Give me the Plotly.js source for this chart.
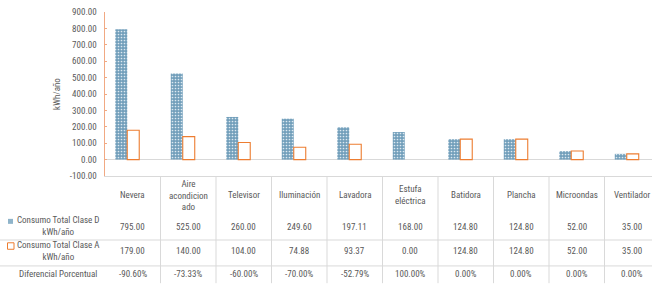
<!DOCTYPE html>
<html>
<head>
<meta charset="utf-8">
<script src="https://cdn.plot.ly/plotly-3.0.1.min.js"></script>
<style>html,body{margin:0;padding:0;background:#fff;}#chart{width:652px;height:284px;}</style>
</head>
<body>
<div id="chart"></div>
<script>
const categories = ["Nevera", "Aire acondicionado", "Televisor", "Iluminación", "Lavadora", "Estufa eléctrica", "Batidora", "Plancha", "Microondas", "Ventilador"];
const headerLabels = ["Nevera", "Aire<br>acondicion<br>ado", "Televisor", "Iluminación", "Lavadora", "Estufa<br>eléctrica", "Batidora", "Plancha", "Microondas", "Ventilador"];
const claseD = [795.00, 525.00, 260.00, 249.60, 197.11, 168.00, 124.80, 124.80, 52.00, 35.00];
const claseA = [179.00, 140.00, 104.00, 74.88, 93.37, 0.00, 124.80, 124.80, 52.00, 35.00];
const diferencial = [-90.60, -73.33, -60.00, -70.00, -52.79, 100.00, 0.00, 0.00, 0.00, 0.00];
const rowLabels = ["Consumo Total Clase D<br>kWh/año", "Consumo Total Clase A<br>kWh/año", "Diferencial Porcentual"];
const yTicks = [-100, 0, 100, 200, 300, 400, 500, 600, 700, 800, 900];
const yTitle = "kWh/año";

const W = 652, H = 284;
const M = {l: 105, r: 0, t: 12, b: 107.5};
const plotW = W - M.l - M.r, plotH = H - M.t - M.b;
const catPx = 55.5;
const xRange = [-0.5, -0.5 + plotW / catPx];
const px2paperX = p => (p - M.l) / plotW;
const px2paperY = p => (H - M.b - p) / plotH;
const cat2paperX = c => (c - xRange[0]) / (xRange[1] - xRange[0]);

const textColor = '#595959';
const gridColor = '#d9d9d9';
const fontFam = 'Liberation Sans Narrow, Roboto Condensed, Roboto, sans-serif';
const fmt = v => v.toFixed(2);

const idx = categories.map((c, i) => i);

const traceD = {
  type: 'bar', x: idx, y: claseD, name: 'Consumo Total Clase D kWh/año',
  offset: -0.315, width: 0.216,
  marker: {color: '#729fbb', line: {width: 0},
    pattern: {shape: '.', fgcolor: '#dce9f1', bgcolor: '#729fbb', size: 3, solidity: 0.25, fillmode: 'replace'}},
  hoverinfo: 'skip'
};
const traceA = {
  type: 'bar', x: idx, y: claseA, name: 'Consumo Total Clase A kWh/año',
  offset: -0.099, width: 0.216,
  marker: {color: '#ffffff', line: {color: '#ED7D31', width: claseA.map(v => v === 0 ? 0 : 1.1)}},
  hoverinfo: 'skip'
};

const shapes = [];
const annotations = [];
const lineStyle = {color: gridColor, width: 1};

[240.7, 266.7].forEach(p => {
  shapes.push({type: 'line', xref: 'paper', yref: 'paper', x0: px2paperX(0), x1: px2paperX(W), y0: px2paperY(p), y1: px2paperY(p), line: lineStyle});
});
for (let i = 0; i < categories.length; i++) {
  const xb = cat2paperX(i + 0.5);
  if (xb <= 1) shapes.push({type: 'line', xref: 'paper', yref: 'paper', x0: xb, x1: xb, y0: 0, y1: px2paperY(H), line: lineStyle});
}
shapes.push({type: 'rect', xref: 'paper', yref: 'paper', x0: px2paperX(8), x1: px2paperX(13), y0: px2paperY(219.5), y1: px2paperY(224.5), fillcolor: '#8fb4ca', line: {width: 0}});
shapes.push({type: 'rect', xref: 'paper', yref: 'paper', x0: px2paperX(7.5), x1: px2paperX(14), y0: px2paperY(243.5), y1: px2paperY(250), fillcolor: '#ffffff', line: {color: '#ED7D31', width: 1}});

const tf = {family: fontFam, size: 9, color: textColor};
idx.forEach(i => {
  annotations.push({xref: 'x', yref: 'paper', x: i, y: px2paperY(195.7), text: headerLabels[i], showarrow: false, font: tf, align: 'center', xanchor: 'center', yanchor: 'middle'});
  annotations.push({xref: 'x', yref: 'paper', x: i, y: px2paperY(227.5), text: fmt(claseD[i]), showarrow: false, font: tf, xanchor: 'center', yanchor: 'middle'});
  annotations.push({xref: 'x', yref: 'paper', x: i, y: px2paperY(252), text: fmt(claseA[i]), showarrow: false, font: tf, xanchor: 'center', yanchor: 'middle'});
  annotations.push({xref: 'x', yref: 'paper', x: i, y: px2paperY(274.5), text: fmt(diferencial[i]) + '%', showarrow: false, font: tf, xanchor: 'center', yanchor: 'middle'});
});
[[227, 0], [252, 1], [274.5, 2]].forEach(([p, k]) => {
  annotations.push({xref: 'paper', yref: 'paper', x: px2paperX(58), y: px2paperY(p), text: rowLabels[k], showarrow: false, font: tf, align: 'center', xanchor: 'center', yanchor: 'middle'});
});

const layout = {
  width: W, height: H, margin: M,
  paper_bgcolor: '#fff', plot_bgcolor: '#fff',
  showlegend: false, barmode: 'overlay',
  font: {family: fontFam, size: 9, color: textColor},
  xaxis: {range: xRange, showticklabels: false, ticks: '', showgrid: false, zeroline: false,
    showline: true, linecolor: gridColor, linewidth: 1, fixedrange: true},
  yaxis: {range: [-100, 900], tickvals: yTicks, ticktext: yTicks.map(fmt),
    showgrid: false, zeroline: true, zerolinecolor: gridColor, zerolinewidth: 1,
    showline: true, linecolor: '#F1A983', linewidth: 1.5,
    ticks: 'inside', ticklen: 2, tickcolor: '#F1A983', tickwidth: 1,
    ticklabelstandoff: 5,
    tickfont: {family: fontFam, size: 9, color: textColor},
    title: {text: yTitle, font: {family: fontFam, size: 9, color: textColor}, standoff: 7},
    fixedrange: true},
  shapes: shapes, annotations: annotations
};

Plotly.newPlot('chart', [traceD, traceA], layout, {displayModeBar: false, staticPlot: true});
</script>
</body>
</html>
